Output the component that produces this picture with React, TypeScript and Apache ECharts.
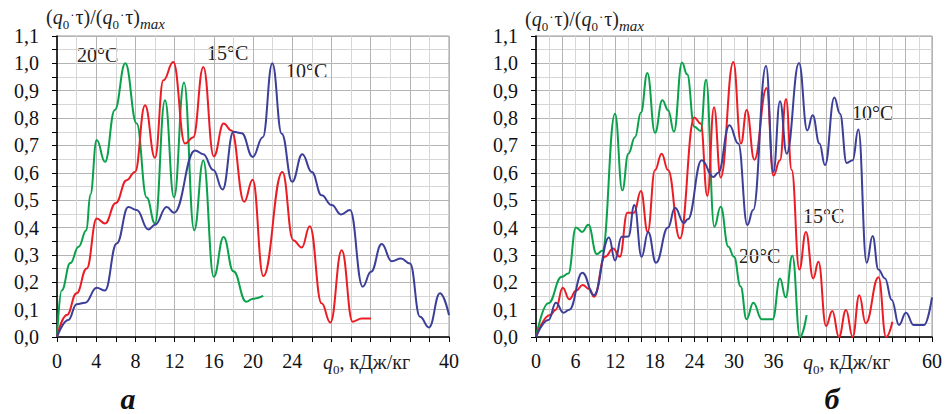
import React, { useEffect, useRef } from "react";
import * as echarts from "echarts";

// Tick labels shown on the x axes
const xLabelsA = [0, 4, 8, 12, 16, 20, 24, 40];
const xLabelsB = [0, 6, 12, 18, 24, 30, 36, 60];

// Chart "а" — [q0, normalised value]
const a20: [number, number][] = [
  [0, 0], [0.47, 0.17], [1.36, 0.27], [2.2, 0.33], [3.0, 0.39], [3.4, 0.52], [4.05, 0.72], [4.9, 0.64],
  [5.9, 0.83], [6.97, 1.0], [8.13, 0.78], [9.15, 0.51], [10.0, 0.415], [11.02, 0.865], [11.94, 0.51],
  [12.96, 0.93], [14.0, 0.39], [14.93, 0.645], [16.0, 0.22], [17.0, 0.365], [18.0, 0.24], [19.3, 0.129],
  [20.0, 0.14], [21.05, 0.15],
];
const a15: [number, number][] = [
  [0, 0], [1.0, 0.08], [2.0, 0.16], [3.03, 0.25], [4.05, 0.433], [4.9, 0.415], [6.0, 0.49], [7.1, 0.573],
  [7.96, 0.603], [8.98, 0.847], [10.0, 0.655], [10.85, 0.938], [11.87, 1.005], [13.06, 0.707], [13.9, 0.73],
  [14.93, 0.987], [16.0, 0.66], [17.0, 0.78], [17.8, 0.755], [19.1, 0.494], [19.97, 0.575], [21.05, 0.223],
  [23.0, 0.603], [24.1, 0.354], [24.97, 0.327], [25.8, 0.405], [27.0, 0.123], [27.9, 0.053], [29.05, 0.317],
  [30.17, 0.056], [31.1, 0.068], [32.04, 0.068],
];
const a10: [number, number][] = [
  [0, 0], [1.15, 0.062], [2.0, 0.12], [2.86, 0.125], [4.05, 0.18], [4.9, 0.17], [6.09, 0.342], [7.28, 0.475],
  [8.13, 0.464], [9.32, 0.393], [10.0, 0.41], [11.19, 0.475], [11.94, 0.454], [14.08, 0.682], [14.93, 0.668],
  [15.95, 0.61], [16.9, 0.539], [18.0, 0.75], [18.85, 0.745], [19.97, 0.658], [21.0, 0.73], [21.97, 1.0],
  [22.93, 0.743], [24.0, 0.567], [25.03, 0.668], [26.0, 0.603], [27.0, 0.518], [28.03, 0.482], [28.98, 0.448],
  [29.9, 0.464], [31.19, 0.184], [32.04, 0.238], [33.13, 0.34], [34.15, 0.277], [35.1, 0.287], [36.02, 0.269],
  [37.04, 0.074], [37.96, 0.035], [39.08, 0.16], [40.0, 0.08],
];

// Chart "б"
const b20: [number, number][] = [
  [0, 0], [1.87, 0.123], [3.9, 0.22], [4.9, 0.232], [6.06, 0.4], [7.0, 0.384], [7.93, 0.41], [9.2, 0.303],
  [10.05, 0.315], [11.97, 0.816], [13.08, 0.536], [13.99, 0.67], [15.0, 0.73], [15.9, 0.82], [16.87, 0.965],
  [18.03, 0.746], [19.14, 0.865], [20.05, 0.828], [20.9, 0.75], [22.12, 1.003], [22.9, 0.96], [23.99, 0.768],
  [24.95, 0.753], [25.76, 0.94], [27.02, 0.403], [27.98, 0.476], [29.14, 0.33], [30.0, 0.293], [31.0, 0.185],
  [31.9, 0.065], [32.93, 0.125], [34.2, 0.065], [35.86, 0.065], [36.97, 0.214], [37.83, 0.145], [38.84, 0.297],
  [40.0, 0.0], [41.0, 0.08],
];
const b15: [number, number][] = [
  [0, 0], [2.12, 0.08], [3.0, 0.1], [4.04, 0.18], [5.05, 0.138], [6.1, 0.17], [7.07, 0.19], [8.1, 0.175],
  [8.79, 0.147], [10.45, 0.293], [11.7, 0.323], [12.7, 0.293], [13.84, 0.454], [14.85, 0.454], [15.9, 0.534],
  [16.92, 0.384], [18.03, 0.61], [19.04, 0.67], [20.0, 0.61], [21.8, 0.36], [23.99, 0.802], [24.95, 0.78],
  [25.96, 0.515], [26.97, 0.84], [27.98, 0.583], [29.9, 1.005], [31.06, 0.707], [31.92, 0.83], [33.08, 0.648],
  [34.95, 0.91], [35.96, 0.59], [36.97, 0.646], [37.88, 0.87], [38.74, 0.61], [39.9, 0.247], [40.9, 0.384],
  [42.0, 0.214], [42.8, 0.275], [43.94, 0.04], [44.9, 0.095], [45.9, 0.0], [46.97, 0.099], [47.98, 0.0],
  [48.98, 0.153], [49.95, 0.05], [51.9, 0.218], [53.03, 0.0], [54.0, 0.056],
];
const b10: [number, number][] = [
  [0, 0], [1.87, 0.062], [3.03, 0.125], [4.14, 0.089], [5.05, 0.1], [7.02, 0.235], [8.79, 0.153],
  [11.06, 0.364], [11.97, 0.28], [12.98, 0.366], [14.0, 0.367], [14.9, 0.482], [16.0, 0.293], [17.0, 0.384],
  [18.18, 0.271], [20.0, 0.4], [21.06, 0.472], [22.4, 0.417], [23.0, 0.43], [25.1, 0.646], [26.87, 0.585],
  [27.6, 0.6], [29.3, 0.774], [30.65, 0.707], [32.02, 0.409], [32.9, 0.464], [34.85, 0.99], [35.96, 0.603],
  [36.97, 0.862], [37.98, 0.67], [39.85, 1.001], [41.1, 0.755], [41.92, 0.81], [42.95, 0.707], [43.79, 0.628],
  [45.2, 0.875], [46.06, 0.816], [47.07, 0.636], [47.98, 0.646], [48.84, 0.758], [50.1, 0.271], [51.0, 0.369],
  [51.87, 0.247], [52.88, 0.214], [53.9, 0.135], [55.0, 0.044], [56.06, 0.089], [57.2, 0.044], [58.8, 0.044],
  [60.0, 0.145],
];

const GREEN = "#0aa14b";
const RED = "#ec1c24";
const BLUE = "#3c3f98";
const FONT = "Liberation Serif";

function yFmt(v: number) {
  const k = Math.round(v * 20);
  if (k % 2 !== 0) return "";
  return (k / 20).toFixed(1).replace(".", ",");
}

function xAxis(gridIndex: number, max: number, labels: number[]) {
  return {
    type: "value",
    gridIndex,
    min: 0,
    max,
    interval: 2,
    axisLine: { show: true, onZero: false, lineStyle: { color: "#000", width: 1.5 } },
    axisTick: { show: true, length: 5, lineStyle: { color: "#000", width: 1 } },
    axisLabel: {
      margin: 14,
      fontFamily: FONT,
      fontSize: 20,
      color: "#111",
      showMaxLabel: true,
      formatter: (v: number) => (labels.indexOf(Math.round(v)) >= 0 ? String(Math.round(v)) : ""),
    },
    splitLine: { show: true, lineStyle: { color: ["#b4b4b4", "#d6d6d6"], width: 1 } },
  };
}

function yAxis(gridIndex: number) {
  return {
    type: "value",
    gridIndex,
    min: 0,
    max: 1.1,
    interval: 0.05,
    axisLine: { show: true, onZero: false, lineStyle: { color: "#000", width: 1.5 } },
    axisTick: { show: true, length: 5, lineStyle: { color: "#000", width: 1 } },
    axisLabel: { margin: 18, fontFamily: FONT, fontSize: 20, color: "#111", formatter: yFmt },
    splitLine: { show: true, lineStyle: { color: ["#b4b4b4", "#d6d6d6"], width: 1 } },
  };
}

function line(data: [number, number][], color: string, idx: number) {
  return {
    type: "line",
    xAxisIndex: idx,
    yAxisIndex: idx,
    data,
    smooth: 0.45,
    smoothMonotone: "x",
    symbol: "none",
    lineStyle: { color, width: 2 },
    silent: true,
  };
}

const richTitle = {
  a: { fontFamily: FONT, fontSize: 20, fill: "#222" },
  i: { fontFamily: FONT, fontSize: 20, fontStyle: "italic", fill: "#222" },
  s: { fontFamily: FONT, fontSize: 13, fill: "#222", lineHeight: 13, padding: [14, 0, 0, 0] },
  d: { fontFamily: FONT, fontSize: 13, fill: "#222", lineHeight: 13, padding: [0, 1, 6, 1] },
  m: { fontFamily: FONT, fontSize: 15, fontStyle: "italic", fill: "#222", lineHeight: 15, padding: [14, 0, 0, 0] },
};

function title(x: number, y: number) {
  return {
    type: "text",
    x,
    y,
    style: {
      text: "{a|(}{i|q}{s|0}{d|·}{a|τ)/(}{i|q}{s|0}{d|·}{a|τ)}{m|max}",
      rich: richTitle,
      verticalAlign: "middle",
      align: "left",
    },
  };
}

function axisName(x: number, y: number) {
  return {
    type: "text",
    x,
    y,
    style: {
      text: "{i|q}{s|0}{a|, кДж/кг}",
      rich: richTitle,
      verticalAlign: "middle",
      align: "left",
    },
  };
}

function temp(x: number, y: number, t: string) {
  return {
    type: "text",
    x,
    y,
    style: { text: t, fontFamily: FONT, fontSize: 20, fill: "#222", verticalAlign: "middle", align: "left" },
  };
}

function letter(x: number, y: number, t: string) {
  return {
    type: "text",
    x,
    y,
    style: {
      text: t,
      fontFamily: FONT,
      fontSize: 30,
      fontStyle: "italic",
      fontWeight: "bold",
      fill: "#111",
      verticalAlign: "bottom",
      align: "center",
    },
  };
}

export default function App() {
  const ref = useRef<HTMLDivElement>(null);
  useEffect(() => {
    document.body.style.margin = "0";
    if (!ref.current) return;
    const chart = echarts.init(ref.current, undefined, { renderer: "svg" });
    chart.setOption({
      animation: false,
      backgroundColor: "#fff",
      grid: [
        { left: 57, top: 36, width: 392, height: 301, show: true, borderColor: "#999", borderWidth: 1 },
        { left: 536, top: 36, width: 396, height: 301, show: true, borderColor: "#999", borderWidth: 1 },
      ],
      xAxis: [xAxis(0, 40, xLabelsA), xAxis(1, 60, xLabelsB)],
      yAxis: [yAxis(0), yAxis(1)],
      series: [
        line(a20, GREEN, 0),
        line(a15, RED, 0),
        line(a10, BLUE, 0),
        line(b20, GREEN, 1),
        line(b15, RED, 1),
        line(b10, BLUE, 1),
      ],
      graphic: [
        title(46, 17),
        title(525, 19),
        axisName(323, 362),
        axisName(803, 362),
        temp(77, 55, "20°C"),
        temp(207, 53, "15°C"),
        temp(286, 71, "10°C"),
        temp(852, 113, "10°C"),
        temp(803, 216, "15°C"),
        temp(739, 256, "20°C"),
        letter(128, 413, "а"),
        letter(832, 413, "б"),
      ],
    });
    return () => chart.dispose();
  }, []);
  return <div ref={ref} style={{ width: 945, height: 414, position: "absolute", left: 0, top: 0 }} />;
}
